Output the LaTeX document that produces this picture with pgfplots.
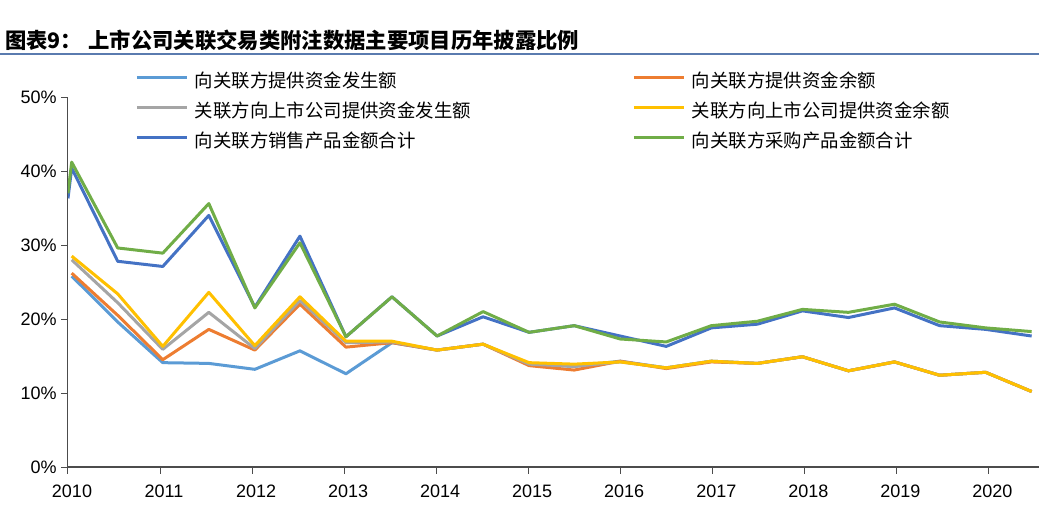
\documentclass[border=0pt]{standalone}
\usepackage{fontspec}
\setmainfont{Liberation Sans}
\newfontfamily\cjk{Noto Sans CJK SC}
\usepackage{pgfplots}
\usepackage{pgfplotstable}
\pgfplotsset{compat=1.18}

\definecolor{cLB}{HTML}{5B9BD5}
\definecolor{cOR}{HTML}{ED7D31}
\definecolor{cGR}{HTML}{A5A5A5}
\definecolor{cYE}{HTML}{FFC000}
\definecolor{cBL}{HTML}{4472C4}
\definecolor{cGN}{HTML}{70AD47}
\definecolor{cRule}{HTML}{5A7BAF}

% funding items (half-year points)
\pgfplotstableread{
x       lb    or    gr    ye
2010.04 25.8  26.2  28.0  28.5
2010.54 19.6  20.5  22.2  23.4
2011.03 14.1  14.5  15.9  16.3
2011.53 14.0  18.6  20.9  23.6
2012.03 13.2  15.8  16.0  16.4
2012.52 15.7  22.0  22.5  23.0
2013.02 12.6  16.2  16.8  17.0
2013.52 16.8  16.8  16.9  17.0
2014.01 15.8  15.8  15.8  15.8
2014.51 16.6  16.6  16.6  16.6
2015.01 13.9  13.7  13.9  14.1
2015.50 13.6  13.1  13.6  13.9
2016.00 14.3  14.3  14.2  14.2
2016.50 13.4  13.3  13.4  13.4
2016.99 14.3  14.2  14.3  14.3
2017.49 14.0  14.0  14.0  14.0
2017.98 14.9  14.9  14.9  14.9
2018.48 13.0  13.0  13.0  13.0
2018.98 14.2  14.2  14.2  14.2
2019.47 12.4  12.4  12.4  12.4
2019.97 12.8  12.8  12.8  12.8
2020.47 10.2  10.2  10.2  10.2
}\tabfund

% sales / purchase totals
\pgfplotstableread{
x       bl    gn
2010.00 36.3  37.0
2010.04 40.4  41.2
2010.54 27.8  29.6
2011.03 27.1  28.9
2011.53 34.0  35.6
2012.03 21.6  21.5
2012.52 31.2  30.3
2013.02 17.6  17.6
2013.52 23.0  23.0
2014.01 17.7  17.7
2014.51 20.3  21.0
2015.01 18.2  18.2
2015.50 19.1  19.1
2016.00 17.7  17.3
2016.50 16.3  16.9
2016.99 18.8  19.1
2017.49 19.3  19.7
2017.98 21.1  21.3
2018.48 20.2  20.9
2018.98 21.5  22.0
2019.47 19.1  19.6
2019.97 18.6  18.8
2020.47 17.7  18.3
}\tabprod

\begin{document}
\begin{tikzpicture}
\path[use as bounding box] (-51pt,-33.75pt) rectangle (728.25pt,350.25pt);

\node[anchor=west, inner sep=0pt, font=\cjk\bfseries\fontsize{16}{19}\selectfont]
  at (-47.25pt,320.25pt) {图表9：\hspace{0.3em}上市公司关联交易类附注数据主要项目历年披露比例};
\draw[cRule, line width=1.1pt] (-51pt,309.75pt) -- (728.25pt,309.75pt);

\begin{axis}[
  at={(0pt,0pt)}, anchor=south west,
  scale only axis, width=728.25pt, height=277.5pt,
  xmin=2010, xmax=2020.55, ymin=0, ymax=50,
  axis x line*=bottom, axis y line*=left,
  x axis line style={black!70, line width=1pt, -},
  y axis line style={black!70, line width=0.75pt, -},
  tick align=outside, major tick length=5pt,
  tick style={black!70, line width=0.75pt},
  xtick={2010,2011,...,2020}, ytick={0,10,...,50},
  yticklabel={\pgfmathprintnumber{\tick}\%},
  /pgf/number format/1000 sep={},
  /pgf/number format/assume math mode=true,
  ticklabel style={font=\fontsize{13.5}{15}\selectfont},
  xticklabel style={xshift=3pt, yshift=-5pt},
  legend columns=2,
  legend cell align=left,
  legend style={at={(axis description cs:0.069,1.062)}, anchor=north west,
    draw=none, fill=none, inner sep=0pt,
    font=\cjk\fontsize{13.8}{16}\selectfont,
    nodes={inner sep=0pt, text height=10pt, text depth=3pt},
    row sep=9.5pt,
    /tikz/every odd column/.append style={column sep=5pt},
    /tikz/every even column/.append style={column sep=10pt}},
  legend image code/.code={\draw[#1] (0pt,4pt) -- (37.5pt,4pt);},
  every axis plot/.append style={line width=2.25pt, line join=round, mark=none},
]
\addplot[cLB] table[x=x, y=lb] {\tabfund};
\addlegendentry{\makebox[318pt][l]{向关联方提供资金发生额}}
\addplot[cOR] table[x=x, y=or] {\tabfund};
\addlegendentry{向关联方提供资金余额}
\addplot[cGR] table[x=x, y=gr] {\tabfund};
\addlegendentry{\makebox[318pt][l]{关联方向上市公司提供资金发生额}}
\addplot[cYE] table[x=x, y=ye] {\tabfund};
\addlegendentry{关联方向上市公司提供资金余额}
\addplot[cBL] table[x=x, y=bl] {\tabprod};
\addlegendentry{\makebox[318pt][l]{向关联方销售产品金额合计}}
\addplot[cGN] table[x=x, y=gn] {\tabprod};
\addlegendentry{向关联方采购产品金额合计}
\end{axis}
\end{tikzpicture}
\end{document}
